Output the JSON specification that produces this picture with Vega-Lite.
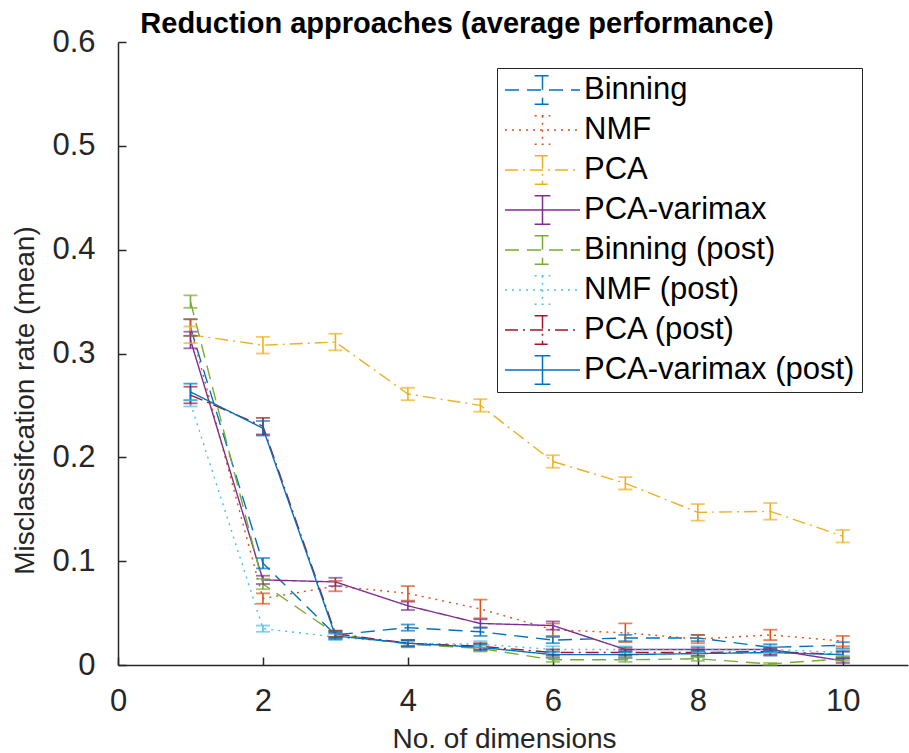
{
  "$schema": "https://vega.github.io/schema/vega-lite/v6.json",
  "autosize": "none",
  "width": 790,
  "height": 623,
  "padding": {"left": 118, "top": 42, "right": 1, "bottom": 88},
  "background": "white",
  "title": {
    "text": "Reduction approaches (average performance)",
    "font": "Liberation Sans",
    "fontSize": 29,
    "fontWeight": "bold",
    "color": "#000000",
    "anchor": "middle",
    "frame": "group",
    "dx": -56,
    "offset": -13
  },
  "config": {
    "view": {"stroke": null},
    "font": "Liberation Sans",
    "axis": {
      "grid": false,
      "domainColor": "#262626",
      "domainWidth": 1.5,
      "tickColor": "#262626",
      "tickWidth": 1.5,
      "tickSize": -8,
      "labelColor": "#262626",
      "labelFont": "Liberation Sans",
      "labelFontSize": 31,
      "labelFlush": false,
      "titleColor": "#262626",
      "titleFont": "Liberation Sans",
      "titleFontSize": 28,
      "titleFontWeight": "normal"
    },
    "legend": {
      "labelFont": "Liberation Sans",
      "labelFontSize": 31,
      "labelColor": "#000000",
      "labelLimit": 500
    }
  },
  "data": {
    "values": [
      {"m": "Binning", "x": 1, "y": 0.325, "lo": 0.317, "hi": 0.333},
      {"m": "Binning", "x": 2, "y": 0.098, "lo": 0.093, "hi": 0.103},
      {"m": "Binning", "x": 3, "y": 0.029, "lo": 0.026, "hi": 0.032},
      {"m": "Binning", "x": 4, "y": 0.036, "lo": 0.033, "hi": 0.039},
      {"m": "Binning", "x": 5, "y": 0.032, "lo": 0.028, "hi": 0.036},
      {"m": "Binning", "x": 6, "y": 0.024, "lo": 0.021, "hi": 0.027},
      {"m": "Binning", "x": 7, "y": 0.026, "lo": 0.023, "hi": 0.029},
      {"m": "Binning", "x": 8, "y": 0.026, "lo": 0.023, "hi": 0.029},
      {"m": "Binning", "x": 9, "y": 0.017, "lo": 0.014, "hi": 0.020},
      {"m": "Binning", "x": 10, "y": 0.019, "lo": 0.016, "hi": 0.022},
      {"m": "NMF", "x": 1, "y": 0.325, "lo": 0.317, "hi": 0.333},
      {"m": "NMF", "x": 2, "y": 0.064, "lo": 0.059, "hi": 0.069},
      {"m": "NMF", "x": 3, "y": 0.076, "lo": 0.071, "hi": 0.081},
      {"m": "NMF", "x": 4, "y": 0.069, "lo": 0.062, "hi": 0.076},
      {"m": "NMF", "x": 5, "y": 0.054, "lo": 0.045, "hi": 0.063},
      {"m": "NMF", "x": 6, "y": 0.034, "lo": 0.028, "hi": 0.040},
      {"m": "NMF", "x": 7, "y": 0.031, "lo": 0.022, "hi": 0.040},
      {"m": "NMF", "x": 8, "y": 0.025, "lo": 0.021, "hi": 0.029},
      {"m": "NMF", "x": 9, "y": 0.029, "lo": 0.024, "hi": 0.034},
      {"m": "NMF", "x": 10, "y": 0.023, "lo": 0.018, "hi": 0.028},
      {"m": "PCA", "x": 1, "y": 0.318, "lo": 0.310, "hi": 0.326},
      {"m": "PCA", "x": 2, "y": 0.308, "lo": 0.300, "hi": 0.316},
      {"m": "PCA", "x": 3, "y": 0.311, "lo": 0.303, "hi": 0.319},
      {"m": "PCA", "x": 4, "y": 0.261, "lo": 0.255, "hi": 0.267},
      {"m": "PCA", "x": 5, "y": 0.250, "lo": 0.244, "hi": 0.256},
      {"m": "PCA", "x": 6, "y": 0.196, "lo": 0.190, "hi": 0.202},
      {"m": "PCA", "x": 7, "y": 0.175, "lo": 0.169, "hi": 0.181},
      {"m": "PCA", "x": 8, "y": 0.147, "lo": 0.139, "hi": 0.155},
      {"m": "PCA", "x": 9, "y": 0.148, "lo": 0.140, "hi": 0.156},
      {"m": "PCA", "x": 10, "y": 0.124, "lo": 0.118, "hi": 0.130},
      {"m": "PCA-varimax", "x": 1, "y": 0.313, "lo": 0.305, "hi": 0.321},
      {"m": "PCA-varimax", "x": 2, "y": 0.082, "lo": 0.078, "hi": 0.086},
      {"m": "PCA-varimax", "x": 3, "y": 0.080, "lo": 0.076, "hi": 0.084},
      {"m": "PCA-varimax", "x": 4, "y": 0.057, "lo": 0.053, "hi": 0.061},
      {"m": "PCA-varimax", "x": 5, "y": 0.040, "lo": 0.036, "hi": 0.044},
      {"m": "PCA-varimax", "x": 6, "y": 0.038, "lo": 0.034, "hi": 0.042},
      {"m": "PCA-varimax", "x": 7, "y": 0.015, "lo": 0.013, "hi": 0.017},
      {"m": "PCA-varimax", "x": 8, "y": 0.015, "lo": 0.013, "hi": 0.017},
      {"m": "PCA-varimax", "x": 9, "y": 0.015, "lo": 0.013, "hi": 0.017},
      {"m": "PCA-varimax", "x": 10, "y": 0.004, "lo": 0.002, "hi": 0.006},
      {"m": "Binning (post)", "x": 1, "y": 0.350, "lo": 0.344, "hi": 0.356},
      {"m": "Binning (post)", "x": 2, "y": 0.078, "lo": 0.073, "hi": 0.083},
      {"m": "Binning (post)", "x": 3, "y": 0.030, "lo": 0.027, "hi": 0.033},
      {"m": "Binning (post)", "x": 4, "y": 0.020, "lo": 0.017, "hi": 0.023},
      {"m": "Binning (post)", "x": 5, "y": 0.016, "lo": 0.013, "hi": 0.019},
      {"m": "Binning (post)", "x": 6, "y": 0.005, "lo": 0.003, "hi": 0.007},
      {"m": "Binning (post)", "x": 7, "y": 0.005, "lo": 0.003, "hi": 0.007},
      {"m": "Binning (post)", "x": 8, "y": 0.006, "lo": 0.004, "hi": 0.008},
      {"m": "Binning (post)", "x": 9, "y": 0.001, "lo": 0.000, "hi": 0.002},
      {"m": "Binning (post)", "x": 10, "y": 0.006, "lo": 0.004, "hi": 0.008},
      {"m": "NMF (post)", "x": 1, "y": 0.252, "lo": 0.249, "hi": 0.255},
      {"m": "NMF (post)", "x": 2, "y": 0.035, "lo": 0.032, "hi": 0.038},
      {"m": "NMF (post)", "x": 3, "y": 0.027, "lo": 0.024, "hi": 0.030},
      {"m": "NMF (post)", "x": 4, "y": 0.021, "lo": 0.018, "hi": 0.024},
      {"m": "NMF (post)", "x": 5, "y": 0.020, "lo": 0.017, "hi": 0.023},
      {"m": "NMF (post)", "x": 6, "y": 0.015, "lo": 0.012, "hi": 0.018},
      {"m": "NMF (post)", "x": 7, "y": 0.015, "lo": 0.012, "hi": 0.018},
      {"m": "NMF (post)", "x": 8, "y": 0.015, "lo": 0.012, "hi": 0.018},
      {"m": "NMF (post)", "x": 9, "y": 0.015, "lo": 0.012, "hi": 0.018},
      {"m": "NMF (post)", "x": 10, "y": 0.012, "lo": 0.009, "hi": 0.015},
      {"m": "PCA (post)", "x": 1, "y": 0.260, "lo": 0.252, "hi": 0.268},
      {"m": "PCA (post)", "x": 2, "y": 0.230, "lo": 0.222, "hi": 0.238},
      {"m": "PCA (post)", "x": 3, "y": 0.030, "lo": 0.027, "hi": 0.033},
      {"m": "PCA (post)", "x": 4, "y": 0.021, "lo": 0.018, "hi": 0.024},
      {"m": "PCA (post)", "x": 5, "y": 0.018, "lo": 0.015, "hi": 0.021},
      {"m": "PCA (post)", "x": 6, "y": 0.012, "lo": 0.009, "hi": 0.015},
      {"m": "PCA (post)", "x": 7, "y": 0.012, "lo": 0.009, "hi": 0.015},
      {"m": "PCA (post)", "x": 8, "y": 0.012, "lo": 0.009, "hi": 0.015},
      {"m": "PCA (post)", "x": 9, "y": 0.013, "lo": 0.010, "hi": 0.016},
      {"m": "PCA (post)", "x": 10, "y": 0.010, "lo": 0.007, "hi": 0.013},
      {"m": "PCA-varimax (post)", "x": 1, "y": 0.263, "lo": 0.255, "hi": 0.271},
      {"m": "PCA-varimax (post)", "x": 2, "y": 0.228, "lo": 0.221, "hi": 0.235},
      {"m": "PCA-varimax (post)", "x": 3, "y": 0.028, "lo": 0.025, "hi": 0.031},
      {"m": "PCA-varimax (post)", "x": 4, "y": 0.021, "lo": 0.018, "hi": 0.024},
      {"m": "PCA-varimax (post)", "x": 5, "y": 0.017, "lo": 0.014, "hi": 0.020},
      {"m": "PCA-varimax (post)", "x": 6, "y": 0.010, "lo": 0.007, "hi": 0.013},
      {"m": "PCA-varimax (post)", "x": 7, "y": 0.010, "lo": 0.007, "hi": 0.013},
      {"m": "PCA-varimax (post)", "x": 8, "y": 0.011, "lo": 0.008, "hi": 0.014},
      {"m": "PCA-varimax (post)", "x": 9, "y": 0.012, "lo": 0.009, "hi": 0.015},
      {"m": "PCA-varimax (post)", "x": 10, "y": 0.010, "lo": 0.007, "hi": 0.013}
    ]
  },
  "encoding": {
    "x": {
      "field": "x",
      "type": "quantitative",
      "scale": {"domain": [0, 10.9], "nice": false, "zero": false},
      "axis": {
        "values": [0, 2, 4, 6, 8, 10],
        "title": "No. of dimensions",
        "labelPadding": 29,
        "titleX": 386,
        "titleY": 82,
        "titleBaseline": "alphabetic",
        "titleAnchor": "middle"
      }
    },
    "y": {
      "field": "y",
      "type": "quantitative",
      "scale": {"domain": [0, 0.6], "nice": false},
      "axis": {
        "values": [0, 0.1, 0.2, 0.3, 0.4, 0.5, 0.6],
        "labelExpr": "datum.value == 0 ? '0' : format(datum.value, '.1f')",
        "title": "Misclassifcation rate (mean)",
        "labelPadding": 31,
        "titleX": -93,
        "titleY": 358,
        "titleBaseline": "middle",
        "titleAnchor": "middle"
      }
    },
    "color": {
      "field": "m",
      "type": "nominal",
      "scale": {
        "domain": ["Binning", "NMF", "PCA", "PCA-varimax", "Binning (post)", "NMF (post)", "PCA (post)", "PCA-varimax (post)"],
        "range": ["#0072BD", "#D95319", "#EDB120", "#7E2F8E", "#77AC30", "#4DBEEE", "#A2142F", "#0072BD"]
      },
      "legend": null
    }
  },
  "layer": [
    {
      "mark": {"type": "line", "strokeWidth": 1.4},
      "encoding": {
        "color": {
          "field": "m",
          "type": "nominal",
          "scale": {
            "domain": ["Binning", "NMF", "PCA", "PCA-varimax", "Binning (post)", "NMF (post)", "PCA (post)", "PCA-varimax (post)"],
            "range": ["#0072BD", "#D95319", "#EDB120", "#7E2F8E", "#77AC30", "#4DBEEE", "#A2142F", "#0072BD"]
          },
          "legend": {
            "title": null,
            "orient": "none",
            "legendX": 379,
            "legendY": 26,
            "padding": 7,
            "strokeColor": "#262626",
            "fillColor": "white",
            "cornerRadius": 0,
            "symbolType": "M-1,0H1M0,-0.38V0.38M-0.21,-0.38H0.21M-0.21,0.38H0.21",
            "symbolSize": 5625,
            "symbolStrokeWidth": 1.5,
            "symbolFillColor": "transparent",
            "clipHeight": 30,
            "rowPadding": 9,
            "labelOffset": 3
          }
        },
        "strokeDash": {
          "field": "m",
          "type": "nominal",
          "scale": {
            "domain": ["Binning", "NMF", "PCA", "PCA-varimax", "Binning (post)", "NMF (post)", "PCA (post)", "PCA-varimax (post)"],
            "range": [[14, 8], [2, 5], [13, 5, 2, 5], [1, 0], [14, 8], [2, 5], [13, 5, 2, 5], [1, 0]]
          }
        }
      }
    },
    {
      "mark": {"type": "rule", "strokeWidth": 1.6},
      "encoding": {
        "y": {"field": "lo", "type": "quantitative"},
        "y2": {"field": "hi"}
      }
    },
    {
      "mark": {"type": "tick", "orient": "horizontal", "size": 14, "thickness": 1.8},
      "encoding": {
        "y": {"field": "lo", "type": "quantitative"}
      }
    },
    {
      "mark": {"type": "tick", "orient": "horizontal", "size": 14, "thickness": 1.8},
      "encoding": {
        "y": {"field": "hi", "type": "quantitative"}
      }
    }
  ]
}
